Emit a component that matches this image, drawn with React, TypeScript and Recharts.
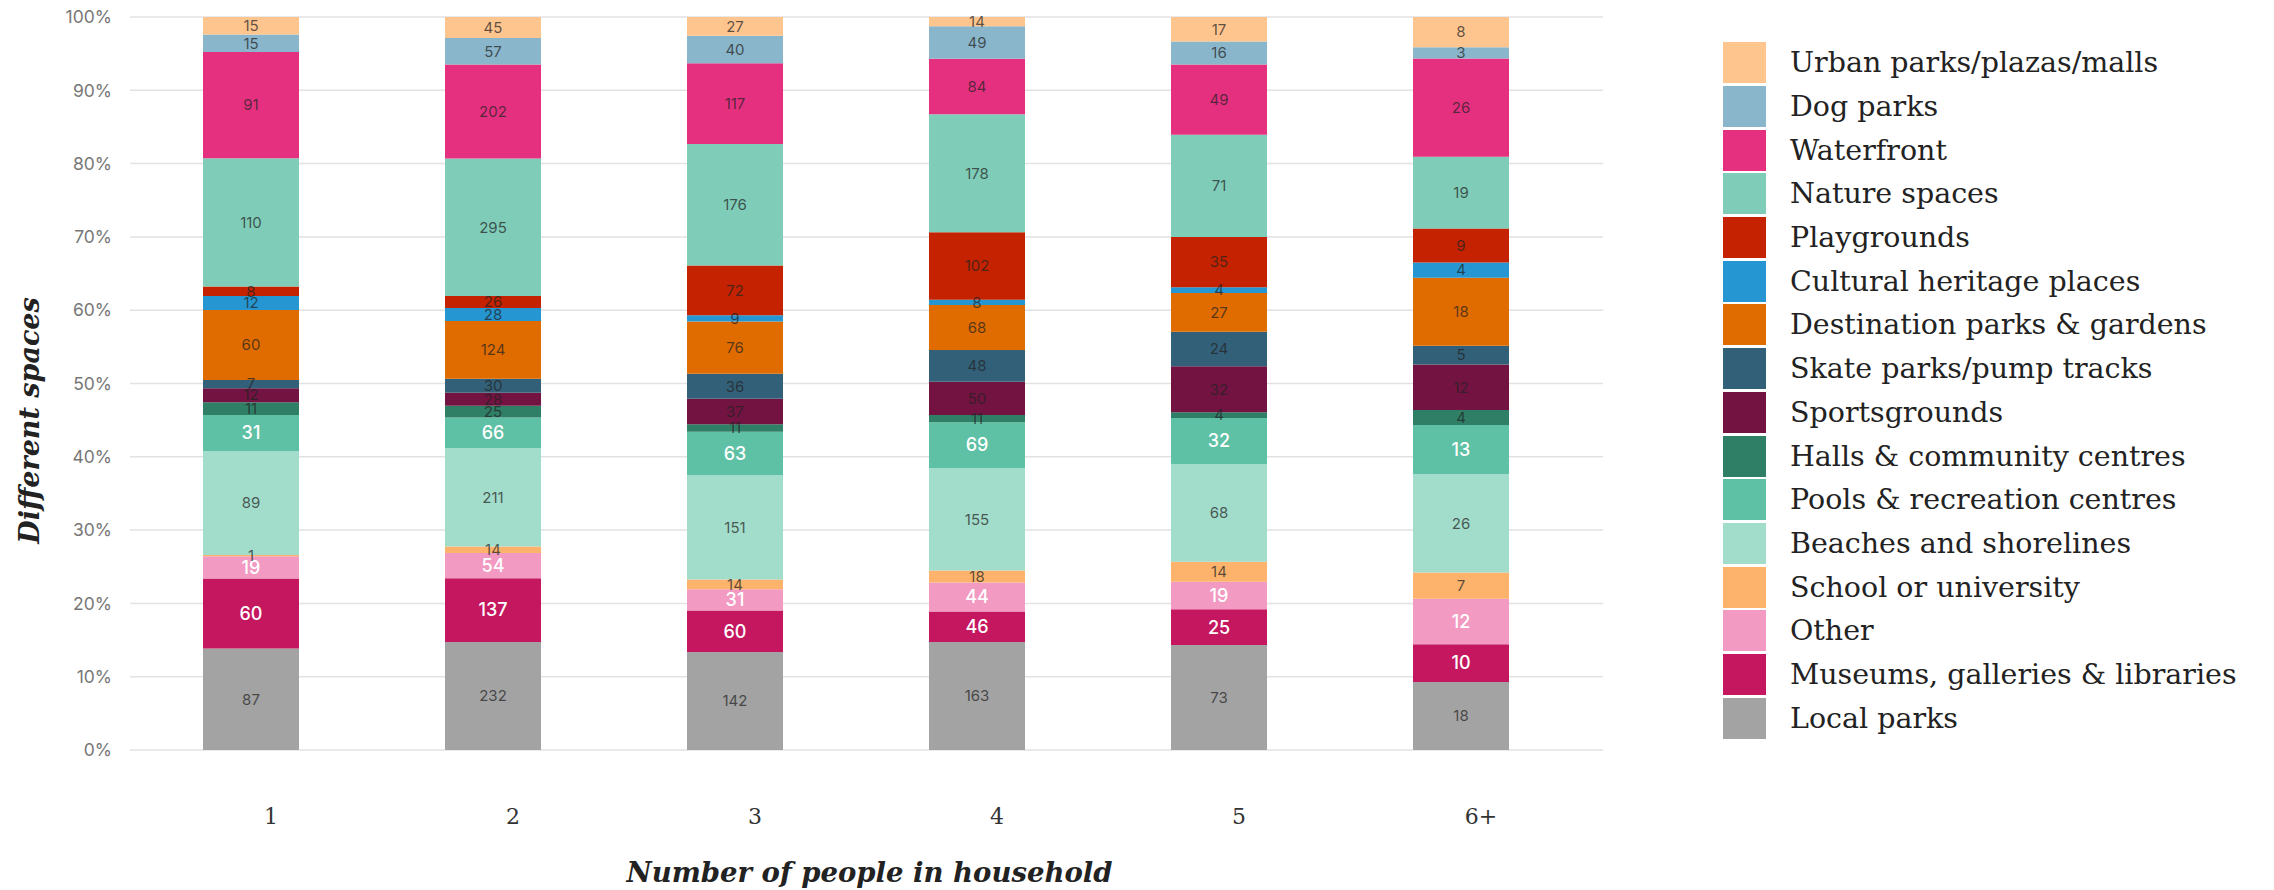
import React from 'react';
import { BarChart, Bar, XAxis, YAxis, CartesianGrid, LabelList, Label } from 'recharts';

// Household size categories
const categories = ['1', '2', '3', '4', '5', '6+'];

// Responses per space type, one value per household size
const localParks = [87, 232, 142, 163, 73, 18];
const museums = [60, 137, 60, 46, 25, 10];
const other = [19, 54, 31, 44, 19, 12];
const school = [1, 14, 14, 18, 14, 7];
const beaches = [89, 211, 151, 155, 68, 26];
const pools = [31, 66, 63, 69, 32, 13];
const halls = [11, 25, 11, 11, 4, 4];
const sportsgrounds = [12, 28, 37, 50, 32, 12];
const skateParks = [7, 30, 36, 48, 24, 5];
const destinationParks = [60, 124, 76, 68, 27, 18];
const culturalHeritage = [12, 28, 9, 8, 4, 4];
const playgrounds = [8, 26, 72, 102, 35, 9];
const natureSpaces = [110, 295, 176, 178, 71, 19];
const waterfront = [91, 202, 117, 84, 49, 26];
const dogParks = [15, 57, 40, 49, 16, 3];
const urbanParks = [15, 45, 27, 14, 17, 8];

const yTicks = [0, 0.1, 0.2, 0.3, 0.4, 0.5, 0.6, 0.7, 0.8, 0.9, 1];

// Stacking order, bottom to top
const series = [
  { key: 'localParks', name: 'Local parks', color: '#a3a3a3', values: localParks, light: false },
  { key: 'museums', name: 'Museums, galleries & libraries', color: '#c4175f', values: museums, light: true },
  { key: 'other', name: 'Other', color: '#f29ac2', values: other, light: true },
  { key: 'school', name: 'School or university', color: '#fdb36c', values: school, light: false },
  { key: 'beaches', name: 'Beaches and shorelines', color: '#a2dccb', values: beaches, light: false },
  { key: 'pools', name: 'Pools & recreation centres', color: '#5ec0a4', values: pools, light: true },
  { key: 'halls', name: 'Halls & community centres', color: '#2f7e66', values: halls, light: false },
  { key: 'sportsgrounds', name: 'Sportsgrounds', color: '#731341', values: sportsgrounds, light: false },
  { key: 'skateParks', name: 'Skate parks/pump tracks', color: '#336079', values: skateParks, light: false },
  { key: 'destinationParks', name: 'Destination parks & gardens', color: '#e06c00', values: destinationParks, light: false },
  { key: 'culturalHeritage', name: 'Cultural heritage places', color: '#2596d1', values: culturalHeritage, light: false },
  { key: 'playgrounds', name: 'Playgrounds', color: '#c42200', values: playgrounds, light: false },
  { key: 'natureSpaces', name: 'Nature spaces', color: '#7fccb8', values: natureSpaces, light: false },
  { key: 'waterfront', name: 'Waterfront', color: '#e5307f', values: waterfront, light: false },
  { key: 'dogParks', name: 'Dog parks', color: '#8ab6cb', values: dogParks, light: false },
  { key: 'urbanParks', name: 'Urban parks/plazas/malls', color: '#ffc58f', values: urbanParks, light: false },
];

const rows = categories.map((household, i) => {
  const row: Record<string, string | number> = { household };
  series.forEach((s) => {
    row[s.key] = s.values[i];
  });
  return row;
});

const serif = '"DejaVu Serif", "Liberation Serif", serif';
const sans = 'Inter, "Noto Sans", sans-serif';

const XTick = (props: any) => {
  const { x, y, payload } = props;
  return (
    <text x={x + 20} y={y} dy="0.35em" textAnchor="middle" fill="#333" fontSize={22} fontFamily={serif}>
      {payload.value}
    </text>
  );
};

const YTitle = (props: any) => {
  const vb = props.viewBox;
  const cx = vb.x - 31;
  const cy = vb.y + vb.height / 2 + 37;
  return (
    <text
      x={cx}
      y={cy}
      transform={`rotate(-90 ${cx} ${cy})`}
      textAnchor="middle"
      dominantBaseline="central"
      fontFamily={serif}
      fontStyle="italic"
      fontWeight="bold"
      fontSize={27}
      fill="#222"
    >
      Different spaces
    </text>
  );
};

const XTitle = (props: any) => {
  const vb = props.viewBox;
  const cx = vb.x + vb.width / 2 + 3;
  const cy = vb.y + 122;
  return (
    <text
      x={cx}
      y={cy}
      textAnchor="middle"
      dominantBaseline="central"
      fontFamily={serif}
      fontStyle="italic"
      fontWeight="bold"
      fontSize={27.5}
      fill="#222"
    >
      Number of people in household
    </text>
  );
};

export default function App() {
  const legendItems = [...series].reverse();
  return (
    <div style={{ position: 'absolute', left: 0, top: 0, width: 2274, height: 890, background: '#fff' }}>
      <BarChart
        width={2274}
        height={890}
        data={rows}
        stackOffset="expand"
        barSize={96}
        margin={{ top: 17, right: 671, bottom: 0, left: 60 }}
      >
        <CartesianGrid vertical={false} stroke="#e2e2e2" strokeWidth={1.5} />
        <XAxis
          dataKey="household"
          height={140}
          axisLine={false}
          tickLine={false}
          tickSize={0}
          tickMargin={66}
          padding={{ left: 0, right: 21 }}
          tick={<XTick />}
        >
          <Label content={<XTitle />} />
        </XAxis>
        <YAxis
          width={70}
          domain={[0, 1]}
          ticks={yTicks}
          tickFormatter={(v: number) => `${Math.round(v * 100)}%`}
          axisLine={false}
          tickLine={false}
          tickSize={0}
          tickMargin={18}
          tick={{ fill: '#777', fontSize: 17.5, fontFamily: sans }}
        >
          <Label content={<YTitle />} />
        </YAxis>
        {series.map((s) => (
          <Bar key={s.key} dataKey={s.key} name={s.name} stackId="spaces" fill={s.color} isAnimationActive={false}>
            <LabelList
              dataKey={s.key}
              position="center"
              fill={s.light ? '#ffffff' : '#222222'}
              fillOpacity={s.light ? 1 : 0.72}
              fontSize={s.light ? 18 : 15}
              fontWeight={s.light ? 500 : 400}
              fontFamily={sans}
            />
          </Bar>
        ))}
      </BarChart>
      <div style={{ position: 'absolute', left: 1723, top: 41, display: 'flex', flexDirection: 'column' }}>
        {legendItems.map((s) => (
          <div key={s.key} style={{ height: 43.7, display: 'flex', alignItems: 'center' }}>
            <div style={{ width: 43, height: 41, background: s.color, flexShrink: 0 }} />
            <span style={{ marginLeft: 24, fontFamily: serif, fontSize: 28.5, color: '#222', whiteSpace: 'nowrap' }}>
              {s.name}
            </span>
          </div>
        ))}
      </div>
    </div>
  );
}
